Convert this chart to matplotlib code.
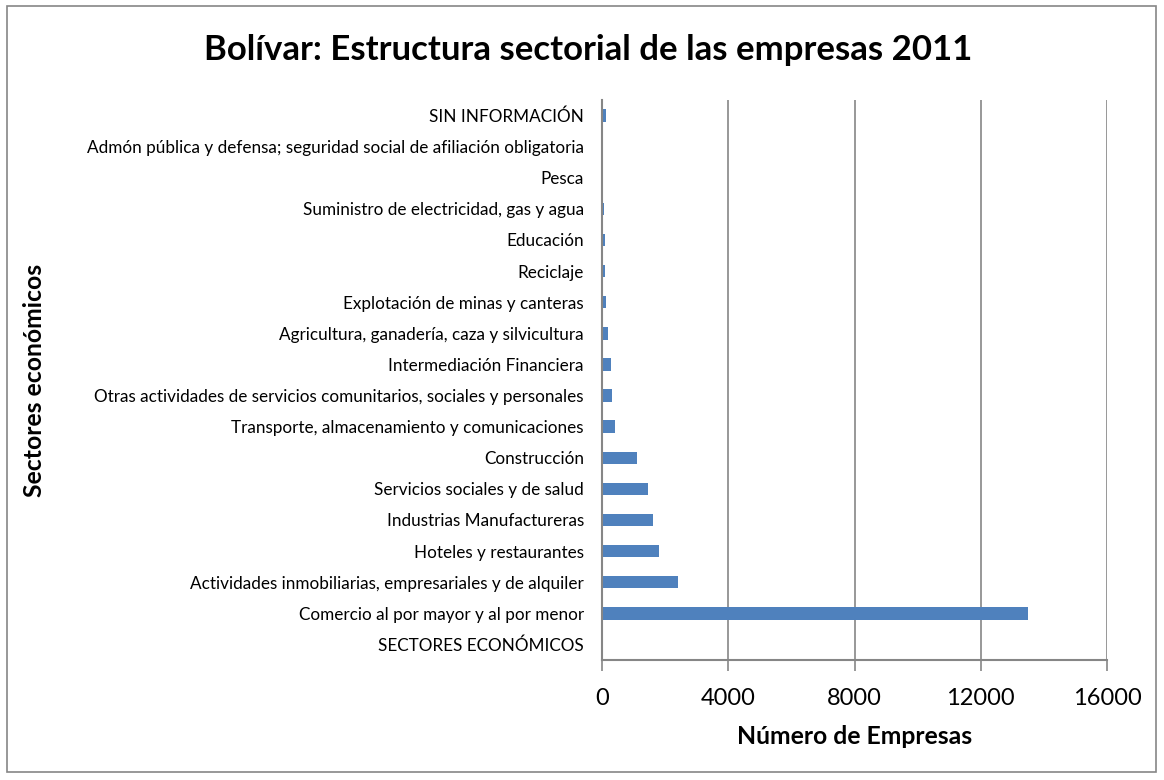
import matplotlib
matplotlib.use("Agg")
import matplotlib.pyplot as plt
from matplotlib.patches import Rectangle

# bottom -> top, as in the chart
sectores = [
    "SECTORES ECONÓMICOS",
    "Comercio al por mayor y al por menor",
    "Actividades inmobiliarias, empresariales y de alquiler",
    "Hoteles y restaurantes",
    "Industrias Manufactureras",
    "Servicios sociales y de salud",
    "Construcción",
    "Transporte, almacenamiento y comunicaciones",
    "Otras actividades de servicios comunitarios, sociales y personales",
    "Intermediación Financiera",
    "Agricultura, ganadería, caza y silvicultura",
    "Explotación de minas y canteras",
    "Reciclaje",
    "Educación",
    "Suministro de electricidad, gas y agua",
    "Pesca",
    "Admón pública y defensa; seguridad social de afiliación obligatoria",
    "SIN INFORMACIÓN",
]
empresas = [0, 13500, 2420, 1795, 1625, 1467, 1118, 422, 327, 295,
            190, 137, 105, 85, 55, 30, 35, 120]
xticks = [0, 4000, 8000, 12000, 16000]

plt.rcParams["font.family"] = ["Lato", "DejaVu Sans"]

fig = plt.figure(figsize=(11.64, 7.8), dpi=100)
ax = fig.add_axes([602 / 1164, 1 - 660 / 780, 505 / 1164, 560 / 780])

ax.barh(range(len(sectores)), empresas, height=0.4, color="#4f81bd")
ax.set_ylim(-0.5, len(sectores) - 0.5)
ax.set_xlim(0, 16000)
ax.set_xticks(xticks)
ax.set_xticklabels([str(t) for t in xticks], fontsize=17)
ax.set_yticks(range(len(sectores)))
ax.set_yticklabels(sectores, fontsize=12.3)
ax.tick_params(axis="y", length=0, pad=13)
ax.tick_params(axis="x", length=8, width=1.2, color="#868686", pad=12)

ax.grid(True, axis="x", color="#868686", linewidth=1.2)
ax.set_axisbelow(True)
for s in ["top", "right"]:
    ax.spines[s].set_visible(False)
for s in ["left", "bottom"]:
    ax.spines[s].set_color("#868686")
    ax.spines[s].set_linewidth(1.5)

ax.set_xlabel("Número de Empresas", fontsize=17.8, fontweight="bold", labelpad=12)
fig.text(35 / 1164, 1 - 380 / 780, "Sectores económicos", rotation=90,
         fontsize=17.8, fontweight="bold", ha="center", va="center")
fig.text(588 / 1164, 1 - 50 / 780, "Bolívar: Estructura sectorial de las empresas 2011",
         fontsize=25, fontweight="bold", ha="center", va="center")

fig.patches.append(Rectangle((7 / 1164, 8 / 780), 1149 / 1164, 766 / 780,
                             transform=fig.transFigure, fill=False,
                             edgecolor="#868686", linewidth=1.2))

fig.savefig("out.png", dpi=100)
